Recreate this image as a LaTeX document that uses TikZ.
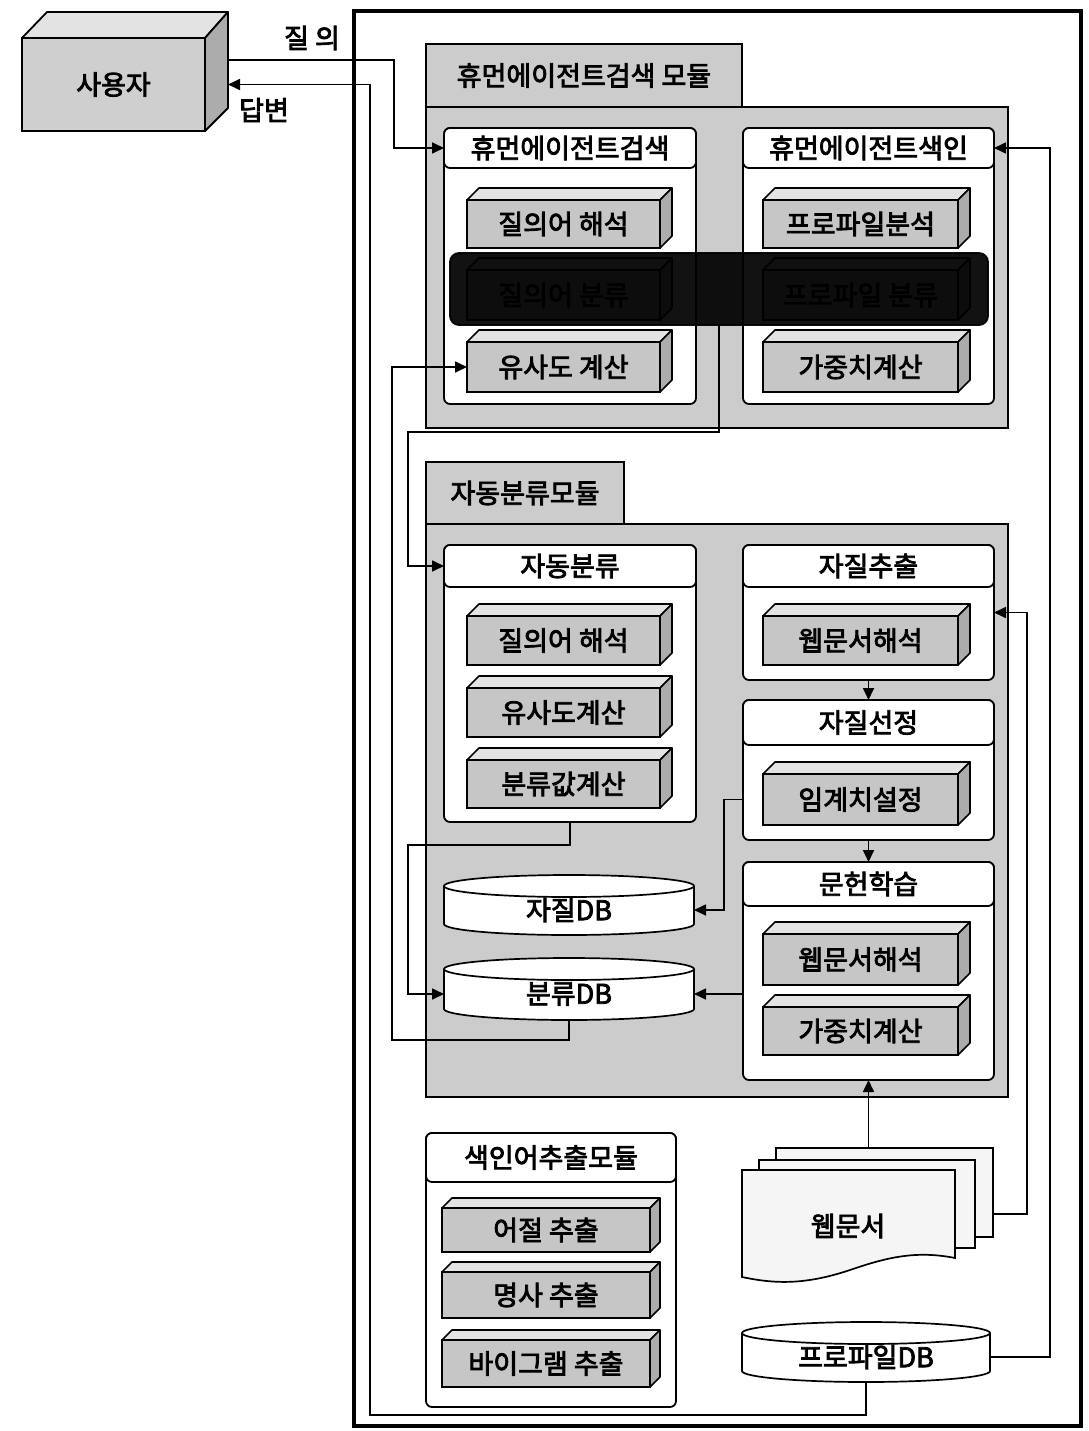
\documentclass[tikz,border=0pt]{standalone}
\usepackage{fontspec}
\setmainfont{Noto Sans CJK KR}[AutoFakeBold=3]
\usetikzlibrary{arrows.meta,calc}
\tikzset{
 frm/.style={draw, line width=4.5pt},
 panel/.style={draw, line width=1.8pt, fill=gray!40, inner sep=0pt, outer sep=0pt},
 tab/.style={draw, line width=1.8pt, fill=gray!40, inner sep=0pt, outer sep=0pt, font=\fontsize{27}{29}\selectfont\bfseries},
 wbox/.style={draw, line width=1.8pt, fill=white, rounded corners=6pt, inner sep=0pt, outer sep=0pt},
 hdr/.style={draw, line width=1.8pt, fill=white, rounded corners=6pt, inner sep=0pt, outer sep=0pt, font=\fontsize{27}{29}\selectfont\bfseries},
 blkf/.style={draw, line width=2pt, fill=gray!45, inner sep=0pt, outer sep=0pt, font=\fontsize{27}{29}\selectfont\bfseries},
 blkt/.style={draw, line width=1.6pt, fill=gray!22, line join=round},
 blks/.style={draw, line width=1.6pt, fill=gray!65, line join=round},
 lbl/.style={inner sep=0pt, outer sep=0pt, font=\fontsize{27}{29}\selectfont\bfseries},
 conn/.style={line width=1.7pt},
 arr/.style={conn, -{Triangle[length=12pt,width=11pt]}},
 sheet/.style={draw, line width=1.7pt, fill=gray!8},
}
% \bx{style}{name}{x1}{y1}{x2}{y2}{text}
\newcommand\bx[7]{%
 \node[#1, anchor=center, minimum width={((#5)-(#3))*1pt}, minimum height={((#6)-(#4))*1pt}]
   (#2) at ({((#3)+(#5))/2},{((#4)+(#6))/2}) {#7};}
\newcommand\blk[7][12]{%
 \bx{blkf}{#2}{#3}{(#4)+(#1)}{(#5)-(#1)}{#6}{#7}
 \draw[blkt] (#2.north west) -- ++(#1,-#1) -- (#5,#4) -- (#2.north east) -- cycle;
 \draw[blks] (#2.north east) -- (#5,#4) -- (#5,#6-#1) -- (#2.south east) -- cycle;
}
\newcommand\cyl[6]{%
 \draw[conn, fill=white] ({(#2+#4)/2},#5-11) ellipse [x radius={(#4-#2)/2}, y radius=11];
 \fill[white] (#2,#3+11) rectangle (#4,#5-11);
 \draw[conn] (#2,#3+11) -- (#2,#5-11) (#4,#3+11) -- (#4,#5-11);
 \draw[conn, fill=white] ({(#2+#4)/2},#3+11) ellipse [x radius={(#4-#2)/2}, y radius=11];
 \bx{lbl}{#1}{#2}{(#3)+10}{#4}{#5}{#6}
}
\begin{document}
\begin{tikzpicture}[x=1pt,y=-1pt]
\useasboundingbox[fill=white] (0,0) rectangle (1088,1431);

% outer frame
\draw[frm] (354,11) rectangle (1081,1426);

% user box
\bx{draw, line width=1.8pt, fill=gray!38, lbl}{user}{22}{38}{205}{131}{사용자}
\draw[blkt, line width=1.8pt] (22,38) -- (47,12) -- (228,12) -- (205,38) -- cycle;
\draw[blks, line width=1.8pt] (205,38) -- (228,12) -- (228,108) -- (205,131) -- cycle;
\node[lbl] (lq) at (312,38) {질 의};
\node[lbl] (la) at (264,110) {답변};

% module 1
\bx{tab}{tab1}{426}{44}{742}{107}{휴먼에이전트검색 모듈}
\bx{panel}{p1}{426}{107}{1008}{428}{}
\bx{wbox}{has}{444}{128}{696}{404}{}
\bx{hdr}{hasH}{444}{128}{696}{168}{휴먼에이전트검색}
\bx{wbox}{hai}{743}{128}{994}{404}{}
\bx{hdr}{haiH}{743}{128}{994}{168}{휴먼에이전트색인}
\blk{q1}{467}{188}{672}{248}{질의어 해석}
\blk{qc}{467}{258}{672}{320}{질의어 분류}
\blk{sim1}{467}{330}{672}{392}{유사도 계산}
\blk{pa}{763}{188}{970}{248}{프로파일분석}
\blk{pc}{763}{258}{970}{320}{프로파일 분류}
\blk{w1}{763}{330}{970}{392}{가중치계산}
\bx{draw, line width=1.8pt, fill=black, opacity=0.93, rounded corners=9pt, inner sep=0pt, outer sep=0pt}{band}{450}{253}{988}{325}{}

% module 2
\bx{tab}{tab2}{426}{462}{624}{524}{자동분류모듈}
\bx{panel}{p2}{426}{524}{1008}{1097}{}
\bx{wbox}{ad}{444}{545}{696}{822}{}
\bx{hdr}{adH}{444}{545}{696}{587}{자동분류}
\blk{q2}{467}{604}{672}{665}{질의어 해석}
\blk{sim2}{467}{676}{672}{737}{유사도계산}
\blk{cv}{467}{748}{672}{808}{분류값계산}
\bx{wbox}{jc}{743}{545}{994}{680}{}
\bx{hdr}{jcH}{743}{545}{994}{587}{자질추출}
\blk{wd1}{763}{604}{970}{665}{웹문서해석}
\bx{wbox}{jjs}{743}{700}{994}{840}{}
\bx{hdr}{jjsH}{743}{700}{994}{745}{자질선정}
\blk{thr}{763}{762}{970}{825}{임계치설정}
\bx{wbox}{mh}{743}{862}{994}{1080}{}
\bx{hdr}{mhH}{743}{862}{994}{906}{문헌학습}
\blk{wd2}{763}{922}{970}{985}{웹문서해석}
\blk{w2}{763}{995}{970}{1055}{가중치계산}
\cyl{zdb}{444}{875}{694}{935}{자질DB}
\cyl{cdb}{444}{958}{694}{1020}{분류DB}

% index module
\bx{wbox}{ix}{426}{1133}{676}{1407}{}
\bx{hdr}{ixH}{426}{1133}{676}{1182}{색인어추출모듈}
\blk[10]{ix1}{442}{1198}{660}{1252}{어절 추출}
\blk[10]{ix2}{442}{1262}{660}{1318}{명사 추출}
\blk[10]{ix3}{442}{1330}{660}{1387}{바이그램 추출}

% web documents
\draw[sheet] (776,1148) rectangle (993,1237);
\draw[sheet] (759,1160) rectangle (975,1248);
\draw[sheet] (742,1170) -- (955,1170) -- (955,1258)
  .. controls (915,1250) and (885,1258) .. (850,1270)
  .. controls (805,1285) and (775,1284) .. (742,1277) -- cycle;
\bx{inner sep=0pt, outer sep=0pt}{web}{742}{1148}{993}{1280}{}
\node[lbl] (webt) at (848,1226) {웹문서};
\cyl{pdb}{742}{1322}{990}{1382}{프로파일DB}

% connectors
\draw[arr] ([xshift=23pt,yshift=24.5pt]user.east) -| ([xshift=-50pt]hasH.west) -- (hasH.west);
\draw[arr] (pdb.south) |- (370,1415) |- ([xshift=23pt]user.east);
\draw[arr] (band.south) |- (408,432) |- (adH.west);
\draw[arr] (cdb.south) |- (392,1040) |- (sim1.west);
\draw[arr] (ad.south) |- (408,845) |- (cdb.west);
\draw[arr] (jjs.west |- thr.center) -| ([xshift=30pt]zdb.east) -- (zdb.east);
\draw[arr] (mh.west |- cdb.east) -- (cdb.east);
\draw[arr] (jc.south) -- (jjs.north);
\draw[arr] (jjs.south) -- (mh.north);
\draw[arr] (web.north -| mh.south) -- (mh.south);
\draw[arr] (web.east) -| ([xshift=33pt]jc.east) -- (jc.east);
\draw[arr] (pdb.east) -| ([xshift=56pt]haiH.east) -- (haiH.east);
\end{tikzpicture}
\end{document}
